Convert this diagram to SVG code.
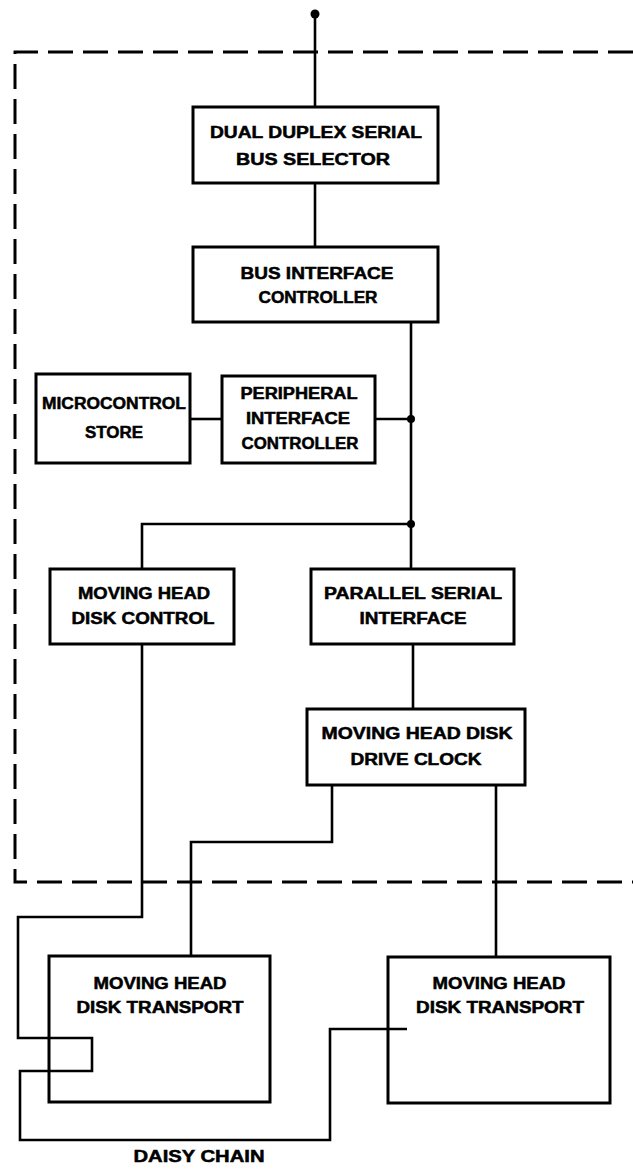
<svg xmlns="http://www.w3.org/2000/svg" width="633" height="1172" viewBox="0 0 633 1172">
<style>
.box{fill:#fff;stroke:#000;stroke-width:3}
.ln{fill:none;stroke:#000;stroke-width:2.6;stroke-linejoin:miter}
.dash{fill:none;stroke:#000;stroke-width:3;stroke-dasharray:25 10}
text{font-family:"Liberation Sans",Arial,sans-serif;font-weight:bold;font-size:16px;text-anchor:middle;fill:#000;stroke:#000;stroke-width:0.5}
</style>
<rect width="633" height="1172" fill="#fff"/>
<path class="dash" d="M633,52 H15 V882 H633"/>
<g id="connectors">
<path class="ln" d="M315,14 V107"/>
<path class="ln" d="M315,183 V247"/>
<path class="ln" d="M411,322 V569"/>
<path class="ln" d="M190,419 H222"/>
<path class="ln" d="M375,419 H411"/>
<path class="ln" d="M411,524 H142 V569"/>
<path class="ln" d="M413,644 V709"/>
<path class="ln" d="M142,644 V917 H18 V1038 H92 V1071 H20 V1140 H330 V1029 H407"/>
<path class="ln" d="M332,785 V842 H191 V956"/>
<path class="ln" d="M496,785 V956"/>
<circle cx="315" cy="14" r="4.5"/>
<circle cx="411" cy="419" r="4"/>
<circle cx="411" cy="524" r="4"/>
</g>
<g id="dual-duplex">
<rect class="box" x="193" y="107" width="245" height="76"/>
<text x="316" y="138" textLength="212" lengthAdjust="spacingAndGlyphs">DUAL DUPLEX SERIAL</text>
<text x="313" y="165" textLength="154" lengthAdjust="spacingAndGlyphs">BUS SELECTOR</text>
</g>
<g id="bus-interface">
<rect class="box" x="193" y="247" width="245" height="75"/>
<text x="317" y="279" textLength="153" lengthAdjust="spacingAndGlyphs">BUS INTERFACE</text>
<text x="318" y="303" textLength="119" lengthAdjust="spacingAndGlyphs">CONTROLLER</text>
</g>
<g id="microcontrol">
<rect class="box" x="36" y="374" width="154" height="89"/>
<text x="114" y="409" textLength="144" lengthAdjust="spacingAndGlyphs">MICROCONTROL</text>
<text x="114" y="438" textLength="58" lengthAdjust="spacingAndGlyphs">STORE</text>
</g>
<g id="peripheral">
<rect class="box" x="222" y="376" width="153" height="87"/>
<text x="299" y="399" textLength="117" lengthAdjust="spacingAndGlyphs">PERIPHERAL</text>
<text x="298" y="424" textLength="104" lengthAdjust="spacingAndGlyphs">INTERFACE</text>
<text x="300" y="449" textLength="117" lengthAdjust="spacingAndGlyphs">CONTROLLER</text>
</g>
<g id="mh-disk-control">
<rect class="box" x="50" y="569" width="184" height="75"/>
<text x="144" y="599" textLength="132" lengthAdjust="spacingAndGlyphs">MOVING HEAD</text>
<text x="143" y="624" textLength="143" lengthAdjust="spacingAndGlyphs">DISK CONTROL</text>
</g>
<g id="parallel-serial">
<rect class="box" x="311" y="569" width="203" height="75"/>
<text x="413" y="599" textLength="178" lengthAdjust="spacingAndGlyphs">PARALLEL SERIAL</text>
<text x="413" y="624" textLength="107" lengthAdjust="spacingAndGlyphs">INTERFACE</text>
</g>
<g id="drive-clock">
<rect class="box" x="307" y="709" width="218" height="76"/>
<text x="417" y="739" textLength="191" lengthAdjust="spacingAndGlyphs">MOVING HEAD DISK</text>
<text x="416" y="765" textLength="131" lengthAdjust="spacingAndGlyphs">DRIVE CLOCK</text>
</g>
<g id="transport-1">
<rect class="box" x="49" y="956" width="221" height="146" style="fill:none"/>
<text x="160" y="989" textLength="133" lengthAdjust="spacingAndGlyphs">MOVING HEAD</text>
<text x="160" y="1013" textLength="167" lengthAdjust="spacingAndGlyphs">DISK TRANSPORT</text>
</g>
<g id="transport-2">
<rect class="box" x="388" y="957" width="222" height="146" style="fill:none"/>
<text x="499" y="989" textLength="133" lengthAdjust="spacingAndGlyphs">MOVING HEAD</text>
<text x="500" y="1013" textLength="168" lengthAdjust="spacingAndGlyphs">DISK TRANSPORT</text>
</g>
<g id="daisy-label">
<text x="199" y="1162" textLength="131" lengthAdjust="spacingAndGlyphs">DAISY CHAIN</text>
</g>
</svg>
